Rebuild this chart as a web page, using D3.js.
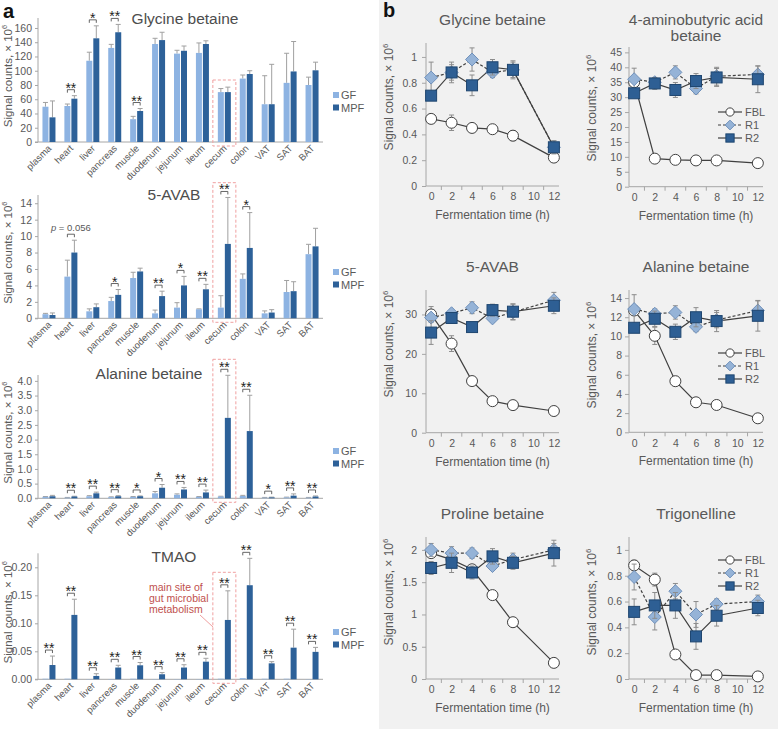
<!DOCTYPE html>
<html><head><meta charset="utf-8">
<script src="https://cdn.jsdelivr.net/npm/d3@7"></script>
<style>body{margin:0;background:#fff}svg{display:block;font-family:"Liberation Sans",Arial,sans-serif}</style>
</head><body><svg id="c" width="778" height="729"></svg>
<script>
// ---------- Panel a data ----------
const tissues = ["plasma","heart","liver","pancreas","muscle","duodenum","jejunum","ileum","cecum","colon","VAT","SAT","BAT"];

const glyGF     = [49.5, 50.5, 114, 132, 32, 137.5, 124, 125, 70, 89, 53, 83, 80];
const glyGFerr  = [6, 2.8, 12, 5, 4, 8, 4.7, 14, 5, 5, 40, 41.5, 11];
const glyMPF    = [34.6, 60.8, 145.5, 154, 43.5, 143, 128, 137.5, 70, 95.4, 53, 99, 100.6];
const glyMPFerr = [23, 4.2, 17.5, 11, 3.5, 11, 6.7, 4.5, 7, 4.6, 56, 42, 11.4];
const glySig    = ["", "**", "*", "**", "**", "", "", "", "", "", "", "", ""];

const avabGF     = [0.5, 5.07, 0.85, 2.1, 4.9, 0.6, 1.3, 1.1, 1.3, 4.8, 0.6, 3.2, 7.8];
const avabGFerr  = [0.1, 2.0, 0.3, 0.45, 0.7, 0.4, 0.6, 0.05, 1.45, 0.6, 0.3, 1.4, 1.2];
const avabMPF    = [0.4, 8.0, 1.35, 2.85, 5.7, 2.7, 4.0, 3.53, 9.05, 8.56, 0.7, 3.3, 8.75];
const avabMPFerr = [0.25, 1.5, 0.4, 0.65, 0.4, 0.6, 1.1, 0.6, 5.65, 4.3, 0.35, 1.15, 2.2];
const avabSig    = ["", "p", "", "*", "", "**", "*", "**", "**", "*", "", "", ""];

const alaGF     = [0.05, 0.02, 0.07, 0.04, 0.05, 0.17, 0.12, 0.05, 0.06, 0.08, 0.02, 0.03, 0.02];
const alaGFerr  = [0.01, 0.01, 0.02, 0.01, 0.01, 0.06, 0.03, 0.01, 0.01, 0.02, 0.01, 0.01, 0.01];
const alaMPF    = [0.07, 0.06, 0.17, 0.07, 0.07, 0.36, 0.30, 0.20, 2.74, 2.29, 0.03, 0.09, 0.06];
const alaMPFerr = [0.03, 0.01, 0.04, 0.02, 0.01, 0.11, 0.07, 0.08, 1.45, 1.22, 0.01, 0.06, 0.02];
const alaSig    = ["", "**", "**", "**", "*", "*", "**", "**", "**", "**", "*", "**", "**"];

const tmaoGF     = [0.001, 0.001, 0.0005, 0.0005, 0.001, 0.0005, 0.0005, 0.0005, 0.001, 0.002, 0.001, 0.001, 0.0005];
const tmaoGFerr  = [0, 0, 0, 0, 0, 0, 0, 0, 0, 0, 0, 0, 0];
const tmaoMPF    = [0.0255, 0.115, 0.006, 0.021, 0.025, 0.009, 0.021, 0.0315, 0.106, 0.168, 0.0285, 0.0565, 0.049];
const tmaoMPFerr = [0.016, 0.028, 0.004, 0.004, 0.005, 0.003, 0.005, 0.006, 0.052, 0.048, 0.003, 0.033, 0.008];
const tmaoSig    = ["**","**","**","**","**","**","**","**","**","**","**","**","**"];

const glyTicks  = [0,20,40,60,80,100,120,140,160];
const avabTicks = [0,2,4,6,8,10,12,14];
const alaTicks  = [0,0.5,1,1.5,2,2.5,3,3.5,4];
const tmaoTicks = [0,0.05,0.1,0.15,0.2];

// ---------- Panel b data ----------
const hours = [0, 2, 4, 6, 8, 12];
const hourTicks = [0, 2, 4, 6, 8, 10, 12];
const seriesNames = ["FBL", "R1", "R2"];

const bGlyFBL = [0.52, 0.49, 0.45, 0.44, 0.39, 0.22], bGlyFBLerr = [0.03, 0.06, 0.02, 0.02, 0.04, 0.03];
const bGlyR1  = [0.84, 0.88, 0.98, 0.88, 0.90, 0.30], bGlyR1err  = [0.12, 0.08, 0.09, 0.04, 0.06, 0.05];
const bGlyR2  = [0.70, 0.88, 0.78, 0.92, 0.90, 0.30], bGlyR2err  = [0.03, 0.06, 0.08, 0.06, 0.07, 0.05];

const bAbaFBL = [35, 9.4, 9.0, 8.8, 8.8, 7.9],      bAbaFBLerr = [1, 0.5, 0.3, 0.3, 0.3, 0.3];
const bAbaR1  = [36, 35, 38.3, 32.9, 37, 37.6],     bAbaR1err  = [3.7, 1, 2.2, 1.8, 3, 2.8];
const bAbaR2  = [31.3, 34.6, 32.4, 35.4, 36.6, 36], bAbaR2err  = [1, 2, 2.5, 2.5, 3, 4.5];

const bAvabFBL = [30.0, 22.6, 13.1, 8.0, 7.0, 5.5],    bAvabFBLerr = [2, 2, 0.5, 0.5, 0.5, 0.5];
const bAvabR1  = [29.2, 30.3, 31.7, 29.0, 30.6, 33.6], bAvabR1err  = [1, 1, 1.5, 1, 2, 2];
const bAvabR2  = [25.4, 29.1, 26.8, 31.1, 30.7, 32.2], bAvabR2err  = [3, 1, 1.2, 1.5, 2, 2];

const bAlaFBL = [12.7, 10.06, 5.33, 3.13, 2.85, 1.46], bAlaFBLerr = [0.3, 0.9, 0.5, 0.2, 0.2, 0.2];
const bAlaR1  = [12.85, 12.36, 12.5, 11.0, 11.7, 12.7], bAlaR1err = [1.5, 0.5, 0.7, 0.5, 0.8, 1.0];
const bAlaR2  = [10.9, 11.84, 10.48, 12.0, 11.6, 12.15], bAlaR2err = [0.3, 0.8, 0.8, 1.0, 1.1, 1.6];

const bProFBL = [1.95, 1.85, 1.7, 1.3, 0.88, 0.25], bProFBLerr = [0.05, 0.05, 0.05, 0.03, 0.03, 0.02];
const bProR1  = [2.0, 1.95, 1.95, 1.75, 1.85, 2.0], bProR1err  = [0.1, 0.1, 0.08, 0.06, 0.1, 0.1];
const bProR2  = [1.72, 1.8, 1.65, 1.9, 1.8, 1.95], bProR2err  = [0.1, 0.15, 0.1, 0.12, 0.1, 0.2];

const bTriFBL = [0.88, 0.77, 0.19, 0.03, 0.03, 0.02], bTriFBLerr = [0.04, 0.05, 0.02, 0.01, 0.01, 0.01];
const bTriR1  = [0.79, 0.48, 0.68, 0.5, 0.58, 0.6],   bTriR1err  = [0.1, 0.1, 0.06, 0.1, 0.04, 0.05];
const bTriR2  = [0.52, 0.57, 0.57, 0.33, 0.49, 0.55], bTriR2err  = [0.1, 0.1, 0.1, 0.1, 0.08, 0.06];

// ---------- drawing ----------
const svg = d3.select("#c");
const GF_C = "#8db3e2", MPF_C = "#2d6199", ERR_C = "#a0a0a0", AX_C = "#a6a6a6", TXT_C = "#595959";

svg.append("text").attr("x", 3).attr("y", 18).attr("font-size", 20).attr("font-weight", "bold").attr("fill", "#111").text("a");

function ylabel(g, x, y, fs) {
  const t = g.append("text").attr("transform", `translate(${x},${y}) rotate(-90)`)
    .attr("text-anchor", "middle").attr("font-size", fs).attr("fill", TXT_C);
  t.append("tspan").text("Signal counts, \u00d7 10");
  t.append("tspan").attr("font-size", fs * 0.65).attr("dy", -5).text("6");
}

function barPanel(c) {
  const g = svg.append("g");
  const x = d3.scaleBand().domain(tissues).range([38, 323]);
  const y = d3.scaleLinear().domain([0, c.max]).range([c.y0, c.yTop]);
  const cx = t => x(t) + x.bandwidth() / 2;

  const ya = g.append("g").attr("transform", "translate(38,0)")
    .call(d3.axisLeft(y).tickValues(c.ticks).tickSize(3).tickPadding(3).tickFormat(c.fmt));
  ya.select(".domain").attr("stroke", AX_C).attr("d", `M-3,${c.y0}H0V${c.yTop}`);
  ya.selectAll(".tick line").attr("stroke", AX_C);
  ya.selectAll(".tick text").attr("fill", TXT_C).attr("font-size", 10.5).attr("font-family", "Liberation Sans, Arial, sans-serif");
  g.append("line").attr("x1", 38).attr("x2", 323).attr("y1", c.y0).attr("y2", c.y0).attr("stroke", AX_C);
  g.selectAll(".xl").data(tissues).join("text")
    .attr("transform", d => `translate(${cx(d) + 3},${c.y0 + 7}) rotate(-45)`)
    .attr("text-anchor", "end").attr("font-size", 9.5).attr("fill", TXT_C).text(d => d);

  g.append("rect").attr("x", cx("cecum") - 11.5).attr("y", c.boxTop)
    .attr("width", 23).attr("height", c.y0 + 4 - c.boxTop)
    .attr("fill", "none").attr("stroke", "#f0a0a0").attr("stroke-dasharray", "3,2");

  const data = tissues.map((t, i) => ({t, gf: c.gf[i], ge: c.gfErr[i], mpf: c.mpf[i], me: c.mpfErr[i], sig: c.sig[i]}));
  const errs = [];
  data.forEach(d => {
    errs.push({x: cx(d.t) - 3.5, v: d.gf, e: d.ge});
    errs.push({x: cx(d.t) + 3.5, v: d.mpf, e: d.me});
  });
  errs.filter(e => e.e > 0).forEach(e => {
    g.append("line").attr("x1", e.x).attr("x2", e.x).attr("y1", y(e.v)).attr("y2", y(e.v + e.e)).attr("stroke", ERR_C);
    g.append("line").attr("x1", e.x - 2.5).attr("x2", e.x + 2.5).attr("y1", y(e.v + e.e)).attr("y2", y(e.v + e.e)).attr("stroke", ERR_C);
  });
  g.selectAll(".gf").data(data).join("rect")
    .attr("x", d => cx(d.t) - 6.5).attr("width", 6)
    .attr("y", d => y(d.gf)).attr("height", d => c.y0 - y(d.gf)).attr("fill", GF_C);
  g.selectAll(".mpf").data(data).join("rect")
    .attr("x", d => cx(d.t) + 0.5).attr("width", 6)
    .attr("y", d => y(d.mpf)).attr("height", d => c.y0 - y(d.mpf)).attr("fill", MPF_C);

  data.filter(d => d.sig).forEach(d => {
    const top = Math.min(y(d.gf + d.ge), y(d.mpf + d.me));
    const by = top - 6;
    const x1 = cx(d.t) - 3.5, x2 = cx(d.t) + 3.5;
    g.append("path").attr("d", `M${x1},${by + 3}V${by}H${x2}V${by + 3}`).attr("fill", "none").attr("stroke", "#555").attr("stroke-width", 0.9);
    if (d.sig === "p") {
      const t = g.append("text").attr("x", cx(d.t)).attr("y", by - 3).attr("text-anchor", "middle").attr("font-size", 9.5).attr("fill", TXT_C);
      t.append("tspan").attr("font-style", "italic").text("p");
      t.append("tspan").text(" = 0.056");
    } else {
      g.append("text").attr("x", cx(d.t)).attr("y", by + 3).attr("text-anchor", "middle")
        .attr("font-size", 14).attr("fill", "#222").text(d.sig);
    }
  });

  g.append("text").attr("x", c.titleX).attr("y", c.titleY + 5).attr("text-anchor", "middle")
    .attr("font-size", 15.5).attr("fill", "#4d4d4d").text(c.title);
  [["GF", GF_C], ["MPF", MPF_C]].forEach((l, i) => {
    const ly = c.legendY + i * 12.5;
    g.append("rect").attr("x", 333).attr("y", ly - 3).attr("width", 6).attr("height", 6).attr("fill", l[1]);
    g.append("text").attr("x", 341).attr("y", ly + 4).attr("font-size", 11).attr("fill", TXT_C).text(l[0]);
  });
  ylabel(g, 12, (c.y0 + c.yTop) / 2 - 4, 11.5);
}

barPanel({y0: 142, yTop: 18, max: 174, ticks: glyTicks, fmt: d3.format("d"), gf: glyGF, gfErr: glyGFerr, mpf: glyMPF, mpfErr: glyMPFerr, sig: glySig,
  title: "Glycine betaine", titleX: 185, titleY: 19, legendY: 95, boxTop: 80});
barPanel({y0: 318.3, yTop: 195, max: 15, ticks: avabTicks, fmt: d3.format("d"), gf: avabGF, gfErr: avabGFerr, mpf: avabMPF, mpfErr: avabMPFerr, sig: avabSig,
  title: "5-AVAB", titleX: 174, titleY: 195, legendY: 272, boxTop: 182.7});
barPanel({y0: 498.3, yTop: 375, max: 4.2, ticks: alaTicks, fmt: d3.format(".1f"), gf: alaGF, gfErr: alaGFerr, mpf: alaMPF, mpfErr: alaMPFerr, sig: alaSig,
  title: "Alanine betaine", titleX: 149, titleY: 374, legendY: 451, boxTop: 359.3});
barPanel({y0: 679.3, yTop: 553.3, max: 0.225, ticks: tmaoTicks, fmt: d3.format(".2f"), gf: tmaoGF, gfErr: tmaoGFerr, mpf: tmaoMPF, mpfErr: tmaoMPFerr, sig: tmaoSig,
  title: "TMAO", titleX: 174, titleY: 557, legendY: 632, boxTop: 572.3});

const ann = svg.append("g").attr("fill", "#c0504d").attr("font-size", 10.5);
["main site of", "gut microbial", "metabolism"].forEach((s, i) => ann.append("text").attr("x", 149).attr("y", 591 + i * 11).text(s));
svg.append("line").attr("x1", 200).attr("y1", 615).attr("x2", 213).attr("y2", 627).attr("stroke", "#f0a0a0");

// ---------- Panel b ----------
svg.append("rect").attr("x", 379).attr("y", 0).attr("width", 399).attr("height", 729).attr("fill", "#f1f1f1");
svg.append("text").attr("x", 383).attr("y", 17).attr("font-size", 20).attr("font-weight", "bold").attr("fill", "#111").text("b");

function marker(g, name, cx, cy, s) {
  if (name === "FBL") {
    g.append("circle").attr("cx", cx).attr("cy", cy).attr("r", 5.5 * s).attr("fill", "#fff").attr("stroke", "#404040");
  } else if (name === "R1") {
    const r = 6.5 * s;
    g.append("path").attr("d", `M${cx},${cy - r}L${cx + r},${cy}L${cx},${cy + r}L${cx - r},${cy}Z`).attr("fill", "#95b3d7").attr("stroke", "#6f90ba");
  } else {
    const h = 5.5 * s;
    g.append("rect").attr("x", cx - h).attr("y", cy - h).attr("width", 2 * h).attr("height", 2 * h).attr("fill", "#2e5f94").attr("stroke", "#1f4670");
  }
}

function linePanel(c) {
  const g = svg.append("g");
  const x = d3.scaleLinear().domain([-0.5, 12.5]).range(c.xr);
  const y = d3.scaleLinear().domain([0, c.max]).range([c.y0, c.yTop]);
  const ya = g.append("g").attr("transform", `translate(${c.xr[0]},0)`)
    .call(d3.axisLeft(y).tickValues(c.ticks).tickSize(4).tickPadding(c.pad).tickFormat(c.fmt));
  ya.select(".domain").attr("stroke", AX_C).attr("d", `M0,${c.y0}V${c.yTop}`);
  ya.selectAll(".tick line").attr("stroke", AX_C);
  ya.selectAll(".tick text").attr("fill", TXT_C).attr("font-size", 10.5).attr("font-family", "Liberation Sans, Arial, sans-serif");
  const xa = g.append("g").attr("transform", `translate(0,${c.y0})`)
    .call(d3.axisBottom(x).tickValues(hourTicks).tickSize(0).tickPadding(7).tickFormat(d3.format("d")));
  xa.select(".domain").attr("stroke", AX_C).attr("d", `M${c.xr[0]},0H${c.xr[1]}`);
  xa.selectAll(".tick text").attr("fill", TXT_C).attr("font-size", 10.5).attr("font-family", "Liberation Sans, Arial, sans-serif");
  g.selectAll(".xt").data([1, 3, 5, 7, 9, 11]).join("line")
    .attr("x1", d => x(d)).attr("x2", d => x(d)).attr("y1", c.y0).attr("y2", c.y0 + 4).attr("stroke", AX_C);

  const mid = (c.xr[0] + c.xr[1]) / 2;
  c.title.forEach((s, i) => g.append("text").attr("x", mid).attr("y", c.titleY + 5 + i * 16).attr("text-anchor", "middle")
    .attr("font-size", 15.5).attr("fill", TXT_C).text(s));
  g.append("text").attr("x", mid).attr("y", c.y0 + 33).attr("text-anchor", "middle").attr("font-size", 12).attr("fill", TXT_C).text("Fermentation time (h)");
  ylabel(g, c.xr[0] - 33, c.ylY, 12);

  const sets = c.series.map((s, k) => ({name: seriesNames[k], pts: hours.map((h, i) => ({h, v: s[0][i], e: s[1][i]}))}));
  const line = d3.line().x(d => x(d.h)).y(d => y(d.v));
  sets.forEach(s => {
    g.append("path").attr("d", line(s.pts)).attr("fill", "none").attr("stroke", "#404040").attr("stroke-width", 1.2)
      .attr("stroke-dasharray", s.name === "R1" ? "3,2" : null);
  });
  sets.forEach(s => {
    s.pts.forEach(p => {
      if (p.e <= 0) return;
      const xx = x(p.h);
      g.append("path").attr("d", `M${xx},${y(p.v - p.e)}V${y(p.v + p.e)}M${xx - 2.5},${y(p.v - p.e)}h5M${xx - 2.5},${y(p.v + p.e)}h5`)
        .attr("stroke", "#8c8c8c").attr("fill", "none");
    });
    s.pts.forEach(p => marker(g, s.name, x(p.h), y(p.v), 1));
  });
  if (c.legendY) {
    seriesNames.forEach((n, i) => {
      const ly = c.legendY + i * 13;
      const lx = c.xr[1] - 45;
      g.append("line").attr("x1", lx).attr("x2", lx + 24).attr("y1", ly).attr("y2", ly).attr("stroke", "#404040").attr("stroke-width", 1.2)
        .attr("stroke-dasharray", n === "R1" ? "3,2" : null);
      marker(g, n, lx + 12, ly, 0.75);
      g.append("text").attr("x", lx + 27).attr("y", ly + 4).attr("font-size", 11).attr("fill", TXT_C).text(n);
    });
  }
}

const L = [426, 559], R = [629, 763];
linePanel({xr: L, y0: 186, yTop: 43, max: 1.108, ticks: [0, 0.2, 0.4, 0.6, 0.8, 1], fmt: d3.format("~g"), pad: 5,
  title: ["Glycine betaine"], titleY: 20, ylY: 97, series: [[bGlyFBL, bGlyFBLerr], [bGlyR1, bGlyR1err], [bGlyR2, bGlyR2err]]});
linePanel({xr: R, y0: 186.7, yTop: 47, max: 46.8, ticks: [0,5,10,15,20,25,30,35,40,45], fmt: d3.format("d"), pad: 3,
  title: ["4-aminobutyric acid", "betaine"], titleY: 20, ylY: 108, legendY: 112, series: [[bAbaFBL, bAbaFBLerr], [bAbaR1, bAbaR1err], [bAbaR2, bAbaR2err]]});
linePanel({xr: L, y0: 432.7, yTop: 290, max: 36.2, ticks: [0, 10, 20, 30], fmt: d3.format("d"), pad: 5,
  title: ["5-AVAB"], titleY: 267, ylY: 344, series: [[bAvabFBL, bAvabFBLerr], [bAvabR1, bAvabR1err], [bAvabR2, bAvabR2err]]});
linePanel({xr: R, y0: 432.3, yTop: 290, max: 14.84, ticks: [0,2,4,6,8,10,12,14], fmt: d3.format("d"), pad: 3,
  title: ["Alanine betaine"], titleY: 267, ylY: 355, legendY: 353, series: [[bAlaFBL, bAlaFBLerr], [bAlaR1, bAlaR1err], [bAlaR2, bAlaR2err]]});
linePanel({xr: L, y0: 679, yTop: 537, max: 2.2, ticks: [0, 0.5, 1, 1.5, 2], fmt: d3.format("~g"), pad: 5,
  title: ["Proline betaine"], titleY: 514, ylY: 592, series: [[bProFBL, bProFBLerr], [bProR1, bProR1err], [bProR2, bProR2err]]});
linePanel({xr: R, y0: 679, yTop: 537, max: 1.1, ticks: [0, 0.2, 0.4, 0.6, 0.8, 1], fmt: d3.format("~g"), pad: 3,
  title: ["Trigonelline"], titleY: 514, ylY: 602, legendY: 560, series: [[bTriFBL, bTriFBLerr], [bTriR1, bTriR1err], [bTriR2, bTriR2err]]});
</script>
</body></html>
